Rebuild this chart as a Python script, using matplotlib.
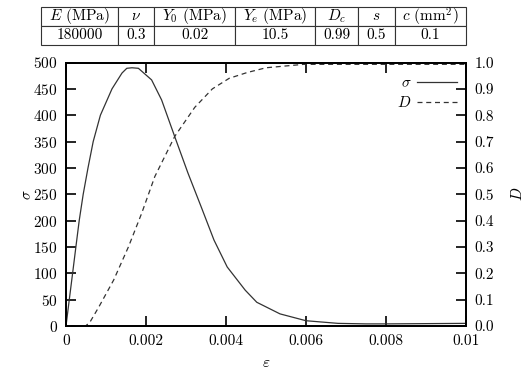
import matplotlib
matplotlib.use('Agg')
import matplotlib.pyplot as plt
from matplotlib.ticker import FixedLocator, FixedFormatter

plt.rcParams['font.family'] = 'serif'
plt.rcParams['font.serif'] = ['cmr10', 'DejaVu Serif']
plt.rcParams['mathtext.fontset'] = 'cm'
plt.rcParams['axes.unicode_minus'] = False
plt.rcParams['axes.formatter.use_mathtext'] = True

# parameter table
col_labels = ['$E$ (MPa)', r'$\nu$', '$Y_0$ (MPa)', '$Y_e$ (MPa)', '$D_c$', '$s$', '$c$ (mm$^2$)']
col_values = ['180000', '0.3', '0.02', '10.5', '0.99', '0.5', '0.1']

# stress curve
eps_s = [0, 0.000082, 0.000165, 0.000247, 0.00033, 0.00043, 0.00055, 0.00068, 0.00086,
         0.00115, 0.0014, 0.00152, 0.00165, 0.00181, 0.00214, 0.00239, 0.00272, 0.00305,
         0.00338, 0.0037, 0.00403, 0.00448, 0.00477, 0.00535, 0.006, 0.0068, 0.0075,
         0.008, 0.009, 0.01]
sigma = [0, 50, 100, 150, 200, 250, 300, 350, 400,
         450, 480, 489, 490, 489, 467, 429, 359, 290,
         226, 163, 112, 68, 45, 23, 10, 5, 4,
         4, 4.5, 5]

# damage curve
eps_d = [0, 0.00049, 0.0006, 0.00082, 0.00119, 0.00156, 0.00189, 0.00222, 0.00272,
         0.00322, 0.00366, 0.00408, 0.00453, 0.005, 0.00594, 0.007, 0.01]
damage = [0, 0, 0.015, 0.072, 0.174, 0.30, 0.427, 0.567, 0.72,
          0.83, 0.90, 0.94, 0.962, 0.98, 0.993, 0.993, 0.993]

x_ticks = [0, 0.002, 0.004, 0.006, 0.008, 0.01]
x_labels = ['0', '0.002', '0.004', '0.006', '0.008', '0.01']
s_ticks = list(range(0, 501, 50))
d_ticks = [i / 10 for i in range(11)]
d_labels = ['%.1f' % v for v in d_ticks]

fig = plt.figure(figsize=(5.29, 3.73), dpi=100)
W, H = 529, 373

# table
tax = fig.add_axes([41 / W, 1 - 45 / H, (466 - 41) / W, 38 / H])
tax.axis('off')
widths = [77, 36, 81, 80, 43, 37, 71]
widths = [w / sum(widths) for w in widths]
tab = tax.table(cellText=[col_values], colLabels=col_labels, colWidths=widths,
                cellLoc='center', bbox=[0, 0, 1, 1])
tab.auto_set_font_size(False)
for cell in tab.get_celld().values():
    cell.set_fontsize(11)
    cell.set_linewidth(0.8)
    cell.set_edgecolor('#333333')

# main plot
ax = fig.add_axes([66 / W, (H - 326) / H, 400 / W, (326 - 62.5) / H])
ax2 = ax.twinx()

l1, = ax.plot(eps_s, sigma, color='#333333', lw=0.9)
l2, = ax2.plot(eps_d, damage, color='#333333', lw=0.9, dashes=(4, 3))

ax.set_xlim(0, 0.01)
ax.set_ylim(0, 500)
ax2.set_ylim(0, 1.0)

ax.xaxis.set_major_locator(FixedLocator(x_ticks))
ax.xaxis.set_major_formatter(FixedFormatter(x_labels))
ax.set_yticks(s_ticks)
ax2.set_yticks(d_ticks)
ax2.set_yticklabels(d_labels)

ax.tick_params(direction='in', length=7, width=1.2, labelsize=11, pad=6,
               top=True, right=False)
ax2.tick_params(direction='in', length=7, width=1.2, labelsize=11, pad=6)
for a in (ax, ax2):
    for sp in a.spines.values():
        sp.set_linewidth(1.3)

ax.set_xlabel(r'$\varepsilon$', fontsize=11, labelpad=6)
ax.set_ylabel(r'$\sigma$', fontsize=11)
ax2.set_ylabel('$D$', fontsize=11)
ax.yaxis.set_label_coords(-0.08, 0.5)
ax2.yaxis.set_label_coords(1.11, 0.5)

ax2.legend([l1, l2], [r'$\sigma$', '$D$'], loc='upper right', frameon=False,
           markerfirst=False, fontsize=11, handlelength=2.6, handletextpad=0.4,
           borderpad=0, borderaxespad=0, bbox_to_anchor=(0.978, 0.945),
           labelspacing=0.3)

fig.savefig('out.png', dpi=100)
